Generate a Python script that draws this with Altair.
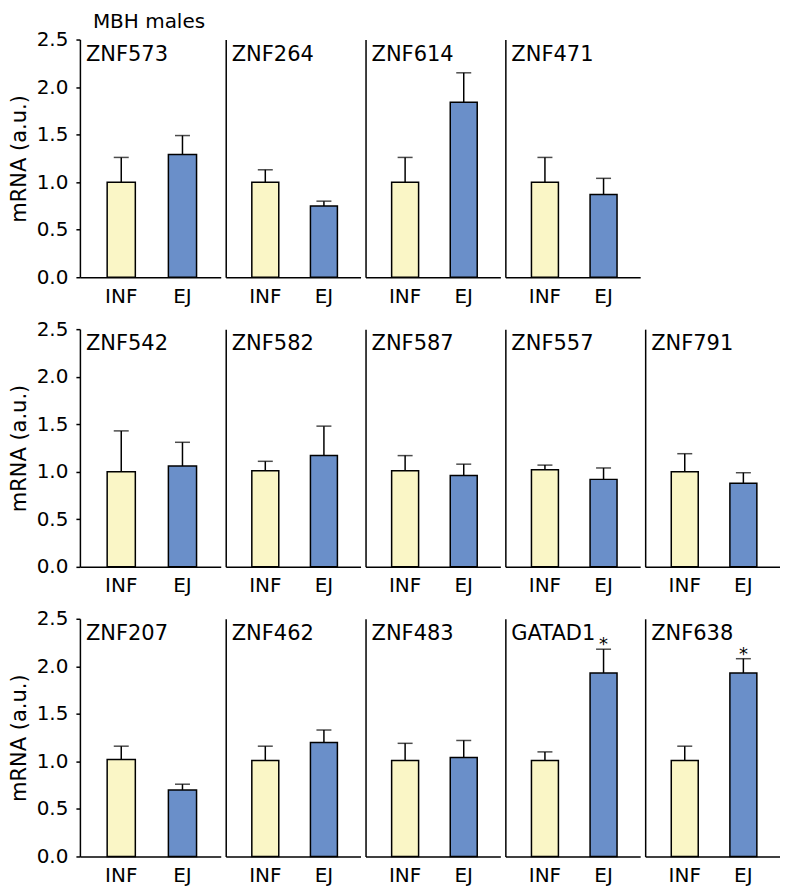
import altair as alt
import pandas as pd

FONT = "DejaVu Sans"

# ---- data ----
row1_genes = ["ZNF573", "ZNF264", "ZNF614", "ZNF471"]
row2_genes = ["ZNF542", "ZNF582", "ZNF587", "ZNF557", "ZNF791"]
row3_genes = ["ZNF207", "ZNF462", "ZNF483", "GATAD1", "ZNF638"]
genes = row1_genes + row2_genes + row3_genes

groups = ["INF", "EJ"]
group_colors = ["#FAF6C6", "#6A8FC9"]

inf_mean = [1.00, 1.00, 1.00, 1.00, 1.00, 1.01, 1.01, 1.02, 1.00, 1.02, 1.01, 1.01, 1.01, 1.01]
inf_upper = [1.26, 1.13, 1.26, 1.26, 1.43, 1.11, 1.17, 1.07, 1.19, 1.16, 1.16, 1.19, 1.10, 1.16]
ej_mean = [1.29, 0.75, 1.84, 0.87, 1.06, 1.17, 0.96, 0.92, 0.88, 0.70, 1.20, 1.04, 1.93, 1.93]
ej_upper = [1.49, 0.80, 2.15, 1.04, 1.31, 1.48, 1.08, 1.04, 0.99, 0.76, 1.33, 1.22, 2.18, 2.08]
significant = ["GATAD1", "ZNF638"]
y_ticks = [0.0, 0.5, 1.0, 1.5, 2.0, 2.5]

records = []
for i, g in enumerate(genes):
    records.append({"gene": g, "group": "INF", "mean": inf_mean[i], "upper": inf_upper[i], "star": ""})
    records.append({"gene": g, "group": "EJ", "mean": ej_mean[i], "upper": ej_upper[i],
                    "star": "*" if g in significant else ""})
df = pd.DataFrame(records)

yscale = alt.Scale(domain=[0, 2.5], nice=False, zero=True)
xscale = alt.Scale(domain=groups, paddingInner=0.54, paddingOuter=0.42, align=0.53)

H = 238


def panel(gene, first, width, header=False):
    d = df[df.gene == gene]
    xaxis = alt.Axis(title=None, labelAngle=0, ticks=False, domainColor="black", domainWidth=1.5,
                     labelFontSize=20, labelFont=FONT, labelColor="black", labelPadding=9, grid=False)
    if first:
        yaxis = alt.Axis(values=y_ticks, format=".1f", title="mRNA (a.u.)", grid=False,
                         domainColor="black", domainWidth=1.5, tickColor="black", tickWidth=1.5,
                         tickSize=4, labelFontSize=20, labelFont=FONT, labelColor="black",
                         labelPadding=8, titleFontSize=21, titleFont=FONT, titleFontWeight="normal",
                         titleColor="black", titlePadding=7)
    else:
        yaxis = alt.Axis(labels=False, ticks=False, title=None, grid=False,
                         domainColor="black", domainWidth=1.5)
    x = alt.X("group:N", sort=groups, scale=xscale, axis=xaxis)
    base = alt.Chart(d)
    rule = base.mark_rule(color="black", strokeWidth=1.5).encode(
        x=x, y=alt.Y("mean:Q", scale=yscale, axis=yaxis), y2="upper:Q")
    cap = base.mark_tick(color="black", thickness=1.5, size=15).encode(
        x=x, y=alt.Y("upper:Q", scale=yscale, axis=yaxis))
    bars = base.mark_bar(stroke="black", strokeWidth=1.5).encode(
        x=x, y=alt.Y("mean:Q", scale=yscale, axis=yaxis),
        color=alt.Color("group:N", scale=alt.Scale(domain=groups, range=group_colors), legend=None))
    star = base.transform_filter(alt.datum.star == "*").mark_text(
        fontSize=18, font=FONT, baseline="alphabetic", dy=1, color="black").encode(
        x=x, y=alt.Y("upper:Q", scale=yscale, axis=yaxis), text="star:N")
    label = alt.Chart(pd.DataFrame({"gene": [gene]})).mark_text(
        align="left", baseline="alphabetic", fontSize=21, font=FONT, color="black").encode(
        x=alt.value(6), y=alt.value(21), text="gene:N")
    layers = [rule, cap, bars, star, label]
    if header:
        head = alt.Chart(pd.DataFrame({"t": ["MBH males"]})).mark_text(
            align="left", baseline="bottom", fontSize=20, font=FONT, color="black").encode(
            x=alt.value(13), y=alt.value(-8), text="t:N")
        layers.append(head)
    return alt.layer(*layers).properties(width=width, height=H)


def row(gs, header=False):
    panels = []
    for j, g in enumerate(gs):
        panels.append(panel(g, j == 0, 141 if j == 0 else 135, header=(header and j == 0)))
    return alt.hconcat(*panels, spacing=5)


chart = alt.vconcat(row(row1_genes, header=True), row(row2_genes), row(row3_genes), spacing=13).properties(
    padding={"top": 3, "left": 0, "right": 0, "bottom": 0}
).configure_view(stroke=None)

chart.save("out.html", embed_options={"renderer": "svg", "actions": False})
